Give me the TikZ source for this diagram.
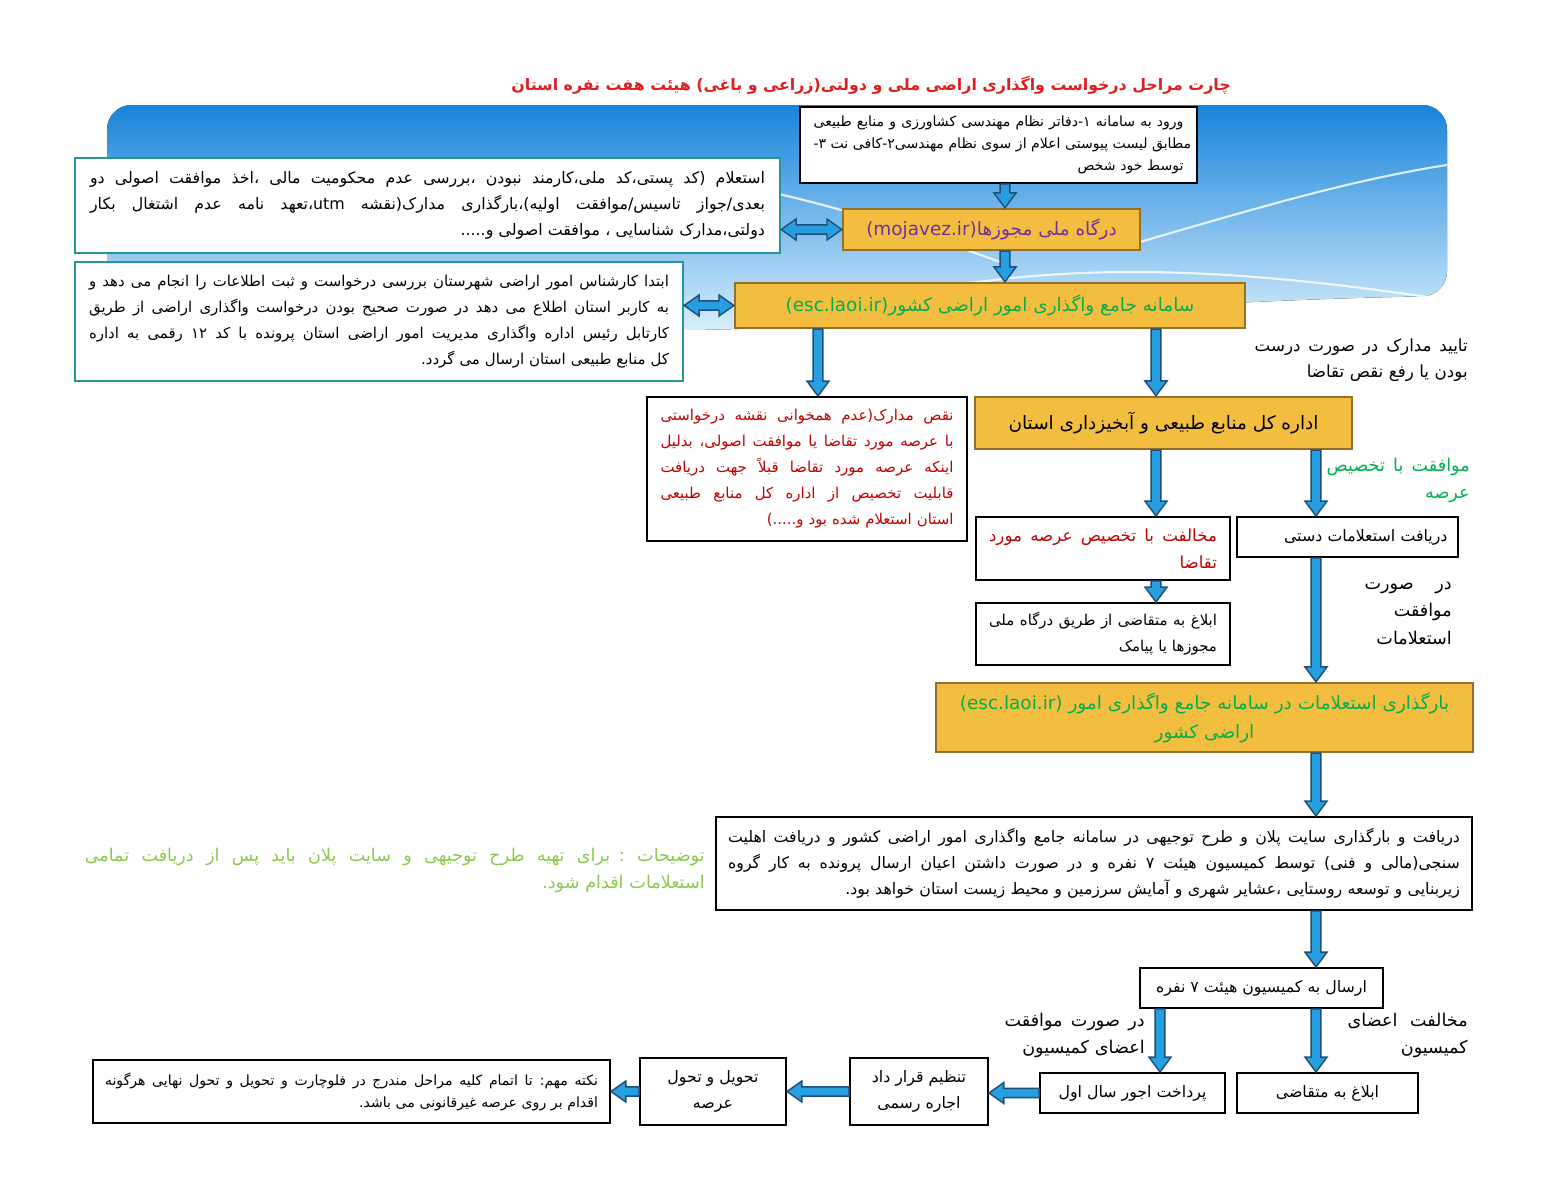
\documentclass[tikz,border=0pt]{standalone}
\usepackage{fontspec}
\newfontfamily\fafont[Script=Arabic]{DejaVu Sans}
\TeXXeTstate=1
\usetikzlibrary{calc}
\definecolor{arrowblue}{RGB}{38,158,224}
\definecolor{arrowdark}{RGB}{31,78,121}
\definecolor{boxgold}{RGB}{243,190,64}
\definecolor{boxbrown}{RGB}{150,112,40}
\definecolor{boxteal}{RGB}{38,150,150}
\definecolor{txtpurple}{RGB}{112,48,160}
\definecolor{txtgreen}{RGB}{0,176,80}
\definecolor{txtlight}{RGB}{140,200,80}
\definecolor{txtred}{RGB}{192,0,0}
\definecolor{titlered}{RGB}{224,30,30}
\definecolor{bgtop}{RGB}{24,132,218}
\definecolor{bgbottom}{RGB}{215,238,252}
% one right-to-left line, plain or spread to the full width
\newcommand{\rl}[1]{\beginR #1\endR}
\newcommand{\jl}[1]{\makebox[\linewidth][s]{\spaceskip=0.32em plus 3em\relax\beginR #1\endR}}
\newcommand{\fsmall}{\fafont\fontsize{8}{12.5}\selectfont}
\newcommand{\fbody}{\fafont\fontsize{8.5}{14.8}\selectfont}
\newcommand{\fwide}{\fafont\fontsize{9}{14.8}\selectfont}
\newcommand{\flbl}{\fafont\fontsize{9.5}{15}\selectfont}
\newcommand{\flarge}{\fafont\fontsize{10}{15.5}\selectfont}
\newcommand{\fbig}{\fafont\fontsize{10.5}{16.5}\selectfont}

\begin{document}
\begin{tikzpicture}[x=0.02cm,y=-0.02cm,font=\fafont,
  box/.style={draw=black,line width=1.1pt,fill=white,inner sep=0pt,align=right},
  tealbox/.style={box,draw=boxteal,line width=1.4pt},
  goldbox/.style={box,fill=boxgold,draw=boxbrown,line width=1.3pt,align=center},
  lbl/.style={inner sep=0pt,align=right,anchor=north east,font=\flarge},
  blkdown/.style={draw=arrowdark,fill=arrowblue,line width=0.8pt,
    to path={let \p1=(\tikztostart), \p2=(\tikztotarget) in
      (\x1-2.8pt,\y1) -- (\x1-2.8pt,\y2+8.5pt) -- (\x1-6.3pt,\y2+8.5pt) -- (\x1,\y2)
      -- (\x1+6.3pt,\y2+8.5pt) -- (\x1+2.8pt,\y2+8.5pt) -- (\x1+2.8pt,\y1) -- cycle}},
  blkleft/.style={draw=arrowdark,fill=arrowblue,line width=0.8pt,
    to path={let \p1=(\tikztostart), \p2=(\tikztotarget) in
      (\x1,\y1-2.6pt) -- (\x2+8.5pt,\y1-2.6pt) -- (\x2+8.5pt,\y1-6pt) -- (\x2,\y1)
      -- (\x2+8.5pt,\y1+6pt) -- (\x2+8.5pt,\y1+2.6pt) -- (\x1,\y1+2.6pt) -- cycle}},
  blkboth/.style={draw=arrowdark,fill=arrowblue,line width=0.8pt,
    to path={let \p1=(\tikztostart), \p2=(\tikztotarget) in
      (\x1,\y1) -- (\x1+8.5pt,\y1+6pt) -- (\x1+8.5pt,\y1+2.6pt) -- (\x2-8.5pt,\y1+2.6pt)
      -- (\x2-8.5pt,\y1+6pt) -- (\x2,\y1) -- (\x2-8.5pt,\y1-6pt) -- (\x2-8.5pt,\y1-2.6pt)
      -- (\x1+8.5pt,\y1-2.6pt) -- (\x1+8.5pt,\y1-6pt) -- cycle}}]
\useasboundingbox (0,0) rectangle (1553,1200);

% background banner
\fill[top color=bgtop,bottom color=bgbottom,rounded corners=14pt]
  (107,105) -- (1447,105) -- (1447,296) .. controls (1200,300) and (900,325) .. (700,330) -- (107,330) -- cycle;
\draw[white,line width=1.2pt,opacity=.8] (700,178) .. controls (800,195) and (900,225) .. (1000,262);
\draw[white,line width=1.2pt,opacity=.8] (1140,242) .. controls (1250,210) and (1350,180) .. (1447,165);
\draw[white,line width=1.2pt,opacity=.8] (900,295) .. controls (1050,265) and (1200,262) .. (1447,300);

% title
\node[font=\fafont\bfseries\fontsize{9}{14}\selectfont,text=titlered] (title) at (871,85)
  {\rl{چارت مراحل درخواست واگذاری اراضی ملی و دولتی(زراعی و باغی) هیئت هفت نفره استان}};

% top part
\node[box,minimum width=7.94cm,minimum height=1.52cm,text width=7.4cm,font=\fsmall] (enter) at (998.5,145)
  {\jl{ورود به سامانه ۱-دفاتر نظام مهندسی کشاورزی و منابع طبیعی}\\
   \jl{مطابق لیست پیوستی اعلام از سوی نظام مهندسی۲-کافی نت ۳-}\\
   \rl{توسط خود شخص}};
\node[tealbox,minimum width=14.1cm,minimum height=1.9cm,text width=13.5cm,font=\fwide] (inq) at (427.5,205.5)
  {\jl{استعلام (کد پستی،کد ملی،کارمند نبودن ،بررسی عدم محکومیت مالی ،اخذ موافقت اصولی دو}\\
   \jl{بعدی/جواز تاسیس/موافقت اولیه)،بارگذاری مدارک(نقشه \beginL utm\endL،تعهد نامه عدم اشتغال بکار}\\
   \rl{دولتی،مدارک شناسایی ، موافقت اصولی و.....}};
\node[goldbox,minimum width=5.94cm,minimum height=0.82cm,font=\fbig,text=txtpurple] (portal) at (991.5,229.5)
  {(mojavez.ir)\rl{درگاه ملی مجوزها}};
\node[tealbox,minimum width=12.16cm,minimum height=2.38cm,text width=11.6cm,font=\fbody] (expert) at (379,321.5)
  {\jl{ابتدا کارشناس امور اراضی شهرستان بررسی درخواست و ثبت اطلاعات را انجام می دهد و}\\
   \jl{به کاربر استان اطلاع می دهد در صورت صحیح بودن درخواست واگذاری اراضی از طریق}\\
   \jl{کارتابل رئیس اداره واگذاری مدیریت امور اراضی استان پرونده با کد ۱۲ رقمی به اداره}\\
   \rl{کل منابع طبیعی استان ارسال می گردد.}};
\node[goldbox,minimum width=10.2cm,minimum height=0.9cm,font=\fbig,text=txtgreen] (system) at (990,305.5)
  {(esc.laoi.ir)\rl{سامانه جامع واگذاری امور اراضی کشور}};

% middle part
\node[box,minimum width=6.4cm,minimum height=2.88cm,text width=5.86cm,font=\fbody,text=txtred] (defect) at (807,469)
  {\jl{نقص مدارک(عدم همخوانی نقشه درخواستی}\\
   \jl{با عرصه مورد تقاضا یا موافقت اصولی، بدلیل}\\
   \jl{اینکه عرصه مورد تقاضا قبلاً جهت دریافت}\\
   \jl{قابلیت تخصیص از اداره کل منابع طبیعی}\\
   \rl{استان استعلام شده بود و.....)}};
\node[lbl,text width=4.26cm,font=\flbl] (check) at (1468,338)
  {\jl{تایید مدارک در صورت درست}\\ \rl{بودن یا رفع نقص تقاضا}};
\node[goldbox,minimum width=7.54cm,minimum height=1.04cm,font=\fbig] (office) at (1163.5,423)
  {\rl{اداره کل منابع طبیعی و آبخیزداری استان}};
\node[lbl,text width=2.86cm,text=txtgreen] (agree) at (1470,458)
  {\jl{موافقت با تخصیص}\\ \rl{عرصه}};
\node[box,minimum width=5.08cm,minimum height=1.26cm,text width=4.56cm,font=\flbl,text=txtred] (oppose) at (1103,548.5)
  {\jl{مخالفت با تخصیص عرصه مورد}\\ \rl{تقاضا}};
\node[box,minimum width=4.42cm,minimum height=0.8cm,text width=4cm,font=\fwide] (manual) at (1347.5,537)
  {\rl{دریافت استعلامات دستی}};
\node[box,minimum width=5.08cm,minimum height=1.24cm,text width=4.56cm,font=\fbody] (notify) at (1103,634)
  {\jl{ابلاغ به متقاضی از طریق درگاه ملی}\\ \rl{مجوزها یا پیامک}};
\node[lbl,text width=1.74cm] (inqok) at (1452,582)
  {\jl{در صورت}\\ \rl{موافقت}\\ \rl{استعلامات}};
\node[goldbox,minimum width=10.74cm,minimum height=1.38cm,font=\fbig,text=txtgreen] (upload) at (1204.5,717.5)
  {(esc.laoi.ir) \rl{بارگذاری استعلامات در سامانه جامع واگذاری امور}\\ \rl{اراضی کشور}};

% lower part
\node[box,minimum width=15.12cm,minimum height=1.86cm,text width=14.64cm,font=\fwide] (plan) at (1094,863.5)
  {\jl{دریافت و بارگذاری سایت پلان و طرح توجیهی در سامانه جامع واگذاری امور اراضی کشور و دریافت اهلیت}\\
   \jl{سنجی(مالی و فنی) توسط کمیسیون هیئت ۷ نفره و در صورت داشتن اعیان ارسال پرونده به کار گروه}\\
   \rl{زیربنایی و توسعه روستایی ،عشایر شهری و آمایش سرزمین و محیط زیست استان خواهد بود.}};
\node[lbl,text width=12.4cm,text=txtlight] (remark) at (705,848)
  {\jl{توضیحات : برای تهیه طرح توجیهی و سایت پلان باید پس از دریافت تمامی}\\ \rl{استعلامات اقدام شود.}};
\node[box,minimum width=4.86cm,minimum height=0.8cm,align=center,font=\fwide] (send) at (1261.5,988)
  {\rl{ارسال به کمیسیون هیئت ۷ نفره}};
\node[lbl,text width=2.8cm] (yes) at (1145,1013)
  {\jl{در صورت موافقت}\\ \rl{اعضای کمیسیون}};
\node[lbl,text width=2.4cm] (no) at (1468,1013)
  {\jl{مخالفت اعضای}\\ \rl{کمیسیون}};
\node[box,minimum width=3.7cm,minimum height=0.8cm,align=center,font=\fwide] (pay) at (1132.5,1093)
  {\rl{پرداخت اجور سال اول}};
\node[box,minimum width=3.62cm,minimum height=0.8cm,align=center,font=\fwide] (inform) at (1327.5,1093)
  {\rl{ابلاغ به متقاضی}};
\node[box,minimum width=2.76cm,minimum height=1.34cm,align=center,font=\fwide] (contract) at (919,1091.5)
  {\rl{تنظیم قرار داد}\\ \rl{اجاره رسمی}};
\node[box,minimum width=2.92cm,minimum height=1.34cm,align=center,font=\fwide] (deliver) at (713,1091.5)
  {\rl{تحویل و تحول}\\ \rl{عرصه}};
\node[box,minimum width=10.34cm,minimum height=1.26cm,text width=9.86cm,font=\fsmall] (note) at (351.5,1091.5)
  {\jl{نکته مهم: تا اتمام کلیه مراحل مندرج در فلوچارت و تحویل و تحول نهایی هرگونه}\\
   \rl{اقدام بر روی عرصه غیرقانونی می باشد.}};

% arrows
\coordinate (colT) at (1005,0);
\coordinate (colD) at (818,0);
\coordinate (colA) at (1156,0);
\coordinate (colY) at (1160,0);
\coordinate (colB) at (1316,0);
\draw[blkdown] (enter.south -| colT) to (portal.north -| colT);
\draw[blkdown] (portal.south -| colT) to (system.north -| colT);
\draw[blkdown] (system.south -| colD) to (defect.north -| colD);
\draw[blkdown] (system.south -| colA) to (office.north -| colA);
\draw[blkdown] (office.south -| colA) to (oppose.north -| colA);
\draw[blkdown] (office.south -| colB) to (manual.north -| colB);
\draw[blkdown] (oppose.south -| colA) to (notify.north -| colA);
\draw[blkdown] (manual.south -| colB) to (upload.north -| colB);
\draw[blkdown] (upload.south -| colB) to (plan.north -| colB);
\draw[blkdown] (plan.south -| colB) to (send.north -| colB);
\draw[blkdown] (send.south -| colY) to (pay.north -| colY);
\draw[blkdown] (send.south -| colB) to (inform.north -| colB);
\draw[blkleft] (pay.west) to (contract.east |- pay.west);
\draw[blkleft] (contract.west) to (deliver.east |- contract.west);
\draw[blkleft] (deliver.west) to (note.east |- deliver.west);
\draw[blkboth] (inq.east |- portal.west) to (portal.west);
\draw[blkboth] (expert.east |- system.west) to (system.west);
\end{tikzpicture}
\end{document}
